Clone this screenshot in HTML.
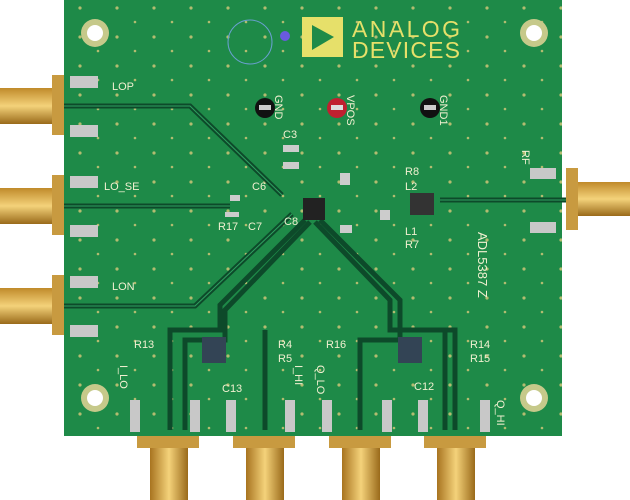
<!DOCTYPE html>
<html><head><style>
html,body{margin:0;padding:0;background:#fff;width:630px;height:500px;overflow:hidden}
svg{display:block}
text{font-family:"Liberation Sans",sans-serif;fill:#f0f0d0}
</style></head><body>
<svg width="630" height="500" viewBox="0 0 630 500">
<defs>
<linearGradient id="g" x1="0" x2="0" y1="0" y2="1"><stop offset="0" stop-color="#c08a2a"/><stop offset=".5" stop-color="#f4d27a"/><stop offset="1" stop-color="#9a6a1a"/></linearGradient>
<linearGradient id="gv" x1="0" x2="1" y1="0" y2="0"><stop offset="0" stop-color="#a87420"/><stop offset=".5" stop-color="#f4d27a"/><stop offset="1" stop-color="#9a6a1a"/></linearGradient>
<pattern id="dots" width="37" height="29" patternUnits="userSpaceOnUse"><circle cx="6" cy="8" r="1.6" fill="#d8c87a"/><circle cx="24" cy="22" r="1.3" fill="#d8c87a"/></pattern>
</defs>
<rect x="64" y="0" width="498" height="436" fill="#1e8a48"/>
<rect x="64" y="0" width="498" height="436" fill="url(#dots)" opacity=".8"/>
<!-- holes -->
<g fill="#c6c98a"><circle cx="95" cy="33" r="14"/><circle cx="534" cy="33" r="14"/><circle cx="95" cy="398" r="14"/><circle cx="534" cy="398" r="14"/></g>
<g fill="#fff"><circle cx="95" cy="33" r="8"/><circle cx="534" cy="33" r="8"/><circle cx="95" cy="398" r="8"/><circle cx="534" cy="398" r="8"/></g>
<!-- logo -->
<rect x="302" y="17" width="41" height="40" fill="#e6e06a"/>
<polygon points="312,25 312,50 334,37" fill="#1e8a48"/>
<text x="352" y="37" font-size="23" style="fill:#e6e06a" textLength="108">ANALOG</text>
<text x="352" y="58" font-size="23" style="fill:#e6e06a" textLength="108">DEVICES</text>
<circle cx="250" cy="42" r="22" fill="none" stroke="#6aa0d0" stroke-width="1"/>
<circle cx="285" cy="36" r="5" fill="#6a5ae0"/>
<!-- traces -->
<g fill="none" stroke="#0d4a2a" stroke-width="5">
<path d="M64 106 H190 L282 195"/>
<path d="M64 206 H230"/>
<path d="M64 306 H195 L292 214"/>
<path d="M440 200 H566"/>
<path d="M305 220 L220 305 V330 H170 V430"/>
<path d="M310 222 L225 310 V340 H185 V430"/>
<path d="M315 222 L390 300 V330 H455 V430"/>
<path d="M320 220 L400 300 V340 H360 V430"/>
<path d="M265 330 V430"/><path d="M445 330 V430"/>
</g>
<g fill="none" stroke="#2fa060" stroke-width="1">
<path d="M64 106 H190 L282 195"/><path d="M64 206 H230"/><path d="M64 306 H195 L292 214"/><path d="M440 200 H566"/>
</g>
<!-- test points -->
<circle cx="265" cy="108" r="10" fill="#111"/><rect x="259" y="105" width="12" height="5" fill="#ccc"/>
<circle cx="337" cy="108" r="10" fill="#c02030"/><rect x="331" y="105" width="12" height="5" fill="#ddd"/>
<circle cx="430" cy="108" r="10" fill="#111"/><rect x="424" y="105" width="12" height="5" fill="#ccc"/>
<!-- IC and parts -->
<rect x="303" y="198" width="22" height="22" fill="#222"/>
<rect x="410" y="193" width="24" height="22" fill="#333"/>
<rect x="202" y="337" width="24" height="26" fill="#345"/>
<rect x="398" y="337" width="24" height="26" fill="#345"/>
<g fill="#ccc"><rect x="283" y="145" width="16" height="7"/><rect x="283" y="162" width="16" height="7"/><rect x="340" y="173" width="10" height="12"/><rect x="230" y="195" width="10" height="6"/><rect x="225" y="212" width="14" height="5"/><rect x="340" y="225" width="12" height="8"/><rect x="380" y="210" width="10" height="10"/></g>
<!-- pads on connectors -->
<g fill="#c8c8c8"><rect x="70" y="76" width="28" height="12"/><rect x="70" y="125" width="28" height="12"/><rect x="70" y="176" width="28" height="12"/><rect x="70" y="225" width="28" height="12"/><rect x="70" y="276" width="28" height="12"/><rect x="70" y="325" width="28" height="12"/><rect x="530" y="168" width="26" height="11"/><rect x="530" y="222" width="26" height="11"/>
<rect x="130" y="400" width="10" height="32"/><rect x="190" y="400" width="10" height="32"/><rect x="226" y="400" width="10" height="32"/><rect x="285" y="400" width="10" height="32"/><rect x="322" y="400" width="10" height="32"/><rect x="382" y="400" width="10" height="32"/><rect x="418" y="400" width="10" height="32"/><rect x="480" y="400" width="10" height="32"/></g>
<!-- SMA -->
<g>
<rect x="52" y="75" width="12" height="60" fill="#c89a40"/><rect x="0" y="88" width="52" height="36" fill="url(#g)"/>
<rect x="52" y="175" width="12" height="60" fill="#c89a40"/><rect x="0" y="188" width="52" height="36" fill="url(#g)"/>
<rect x="52" y="275" width="12" height="60" fill="#c89a40"/><rect x="0" y="288" width="52" height="36" fill="url(#g)"/>
<rect x="566" y="168" width="12" height="62" fill="#c89a40"/><rect x="578" y="182" width="52" height="34" fill="url(#g)"/>
<rect x="137" y="436" width="62" height="12" fill="#c89a40"/><rect x="150" y="448" width="38" height="52" fill="url(#gv)"/>
<rect x="233" y="436" width="62" height="12" fill="#c89a40"/><rect x="246" y="448" width="38" height="52" fill="url(#gv)"/>
<rect x="329" y="436" width="62" height="12" fill="#c89a40"/><rect x="342" y="448" width="38" height="52" fill="url(#gv)"/>
<rect x="424" y="436" width="62" height="12" fill="#c89a40"/><rect x="437" y="448" width="38" height="52" fill="url(#gv)"/>
</g>
<!-- labels -->
<g font-size="11">
<text x="112" y="90">LOP</text><text x="104" y="190">LO_SE</text><text x="112" y="290">LON</text>
<text x="283" y="138">C3</text><text x="284" y="225">C8</text><text x="405" y="175">R8</text><text x="405" y="190">L2</text><text x="405" y="235">L1</text><text x="405" y="248">R7</text>
<text x="252" y="190">C6</text><text x="218" y="230">R17</text><text x="248" y="230">C7</text>
<text x="134" y="348">R13</text><text x="278" y="348">R4</text><text x="278" y="362">R5</text><text x="326" y="348">R16</text><text x="470" y="348">R14</text><text x="470" y="362">R15</text>
<text x="222" y="392">C13</text><text x="414" y="390">C12</text>
<text x="522" y="150" transform="rotate(90 522 150)">RF</text>
<text x="478" y="232" transform="rotate(90 478 232)" font-size="13">ADL5387 Z</text>
<text x="275" y="95" transform="rotate(90 275 95)">GND</text><text x="347" y="95" transform="rotate(90 347 95)">VPOS</text><text x="440" y="95" transform="rotate(90 440 95)">GND1</text>
<text x="120" y="365" transform="rotate(90 120 365)">I_LO</text><text x="295" y="365" transform="rotate(90 295 365)">I_HI</text><text x="317" y="365" transform="rotate(90 317 365)">Q_LO</text><text x="497" y="400" transform="rotate(90 497 400)">Q_HI</text>
</g>
</svg>
</body></html>
